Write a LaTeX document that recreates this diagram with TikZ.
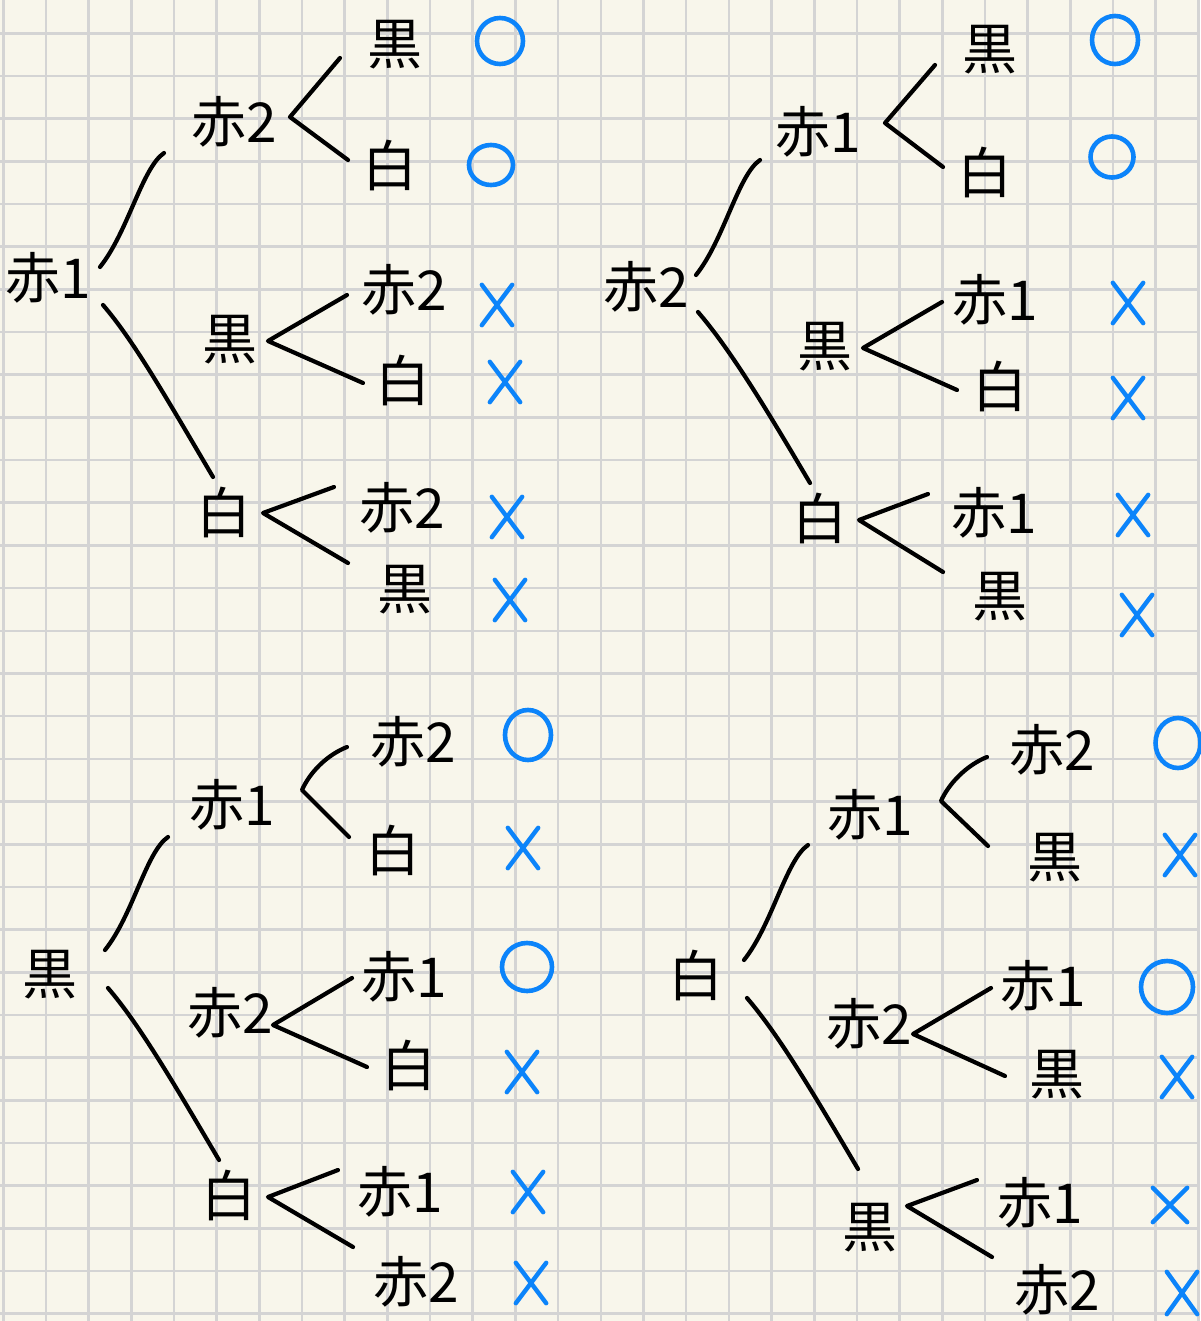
\documentclass[tikz,border=0pt]{standalone}
\usepackage{fontspec}
\newfontfamily\jpfont{Noto Sans CJK JP}
\usetikzlibrary{calc,shapes.geometric}
\definecolor{paper}{RGB}{248,246,235}
\definecolor{gridgray}{RGB}{212,212,212}
\definecolor{markblue}{RGB}{12,132,250}
\tikzset{
  lbl/.style={font=\jpfont\fontsize{55}{55}\selectfont, inner sep=0pt, text=black},
  pen/.style={draw=black, line width=4.2pt, line cap=round, line join=round},
  markpen/.style={draw=markblue, line width=4.4pt, line cap=round},
  okmark/.style={ellipse, draw=markblue, line width=4.6pt, minimum width=44pt, minimum height=44pt, inner sep=0pt},
  ngmark/.style={rectangle, minimum width=30pt, minimum height=40pt, inner sep=0pt,
    append after command={
      (\tikzlastnode.north west) edge[markpen] (\tikzlastnode.south east)
      (\tikzlastnode.north east) edge[markpen] (\tikzlastnode.south west)}},
}
\begin{document}
\begin{tikzpicture}[x=1pt,y=-1pt]
\useasboundingbox (0,0) rectangle (1200,1321);
% squared paper
\fill[paper] (0,0) rectangle (1200,1321);
\foreach \k in {0,...,28} \draw[gridgray, line width=2.6pt] ({3.3+42.68*\k},0) -- ++(0,1321);
\foreach \k in {0,...,30} \draw[gridgray, line width=2.6pt] (0,{33.3+42.68*\k}) -- ++(1200,0);

% ---------- tree: 赤1 first ----------
\node[lbl] (r1) at (48,278) {赤1};
\node[lbl] (a1) at (234,122) {赤2};
\node[lbl] (b1) at (230,340) {黒};
\node[lbl] (c1) at (224,512) {白};
\node[lbl] (aa1) at (395,45) {黒};
\node[lbl] (ab1) at (390,165) {白};
\node[lbl] (ba1) at (404,290) {赤2};
\node[lbl] (bb1) at (403,380) {白};
\node[lbl] (ca1) at (402,508) {赤2};
\node[lbl] (cb1) at (405,590) {黒};
\node[okmark, minimum width=46pt, minimum height=46pt] (maa1) at (500,41) {};
\node[okmark, minimum width=44pt, minimum height=40pt] (mab1) at (491,165) {};
\node[ngmark] (mba1) at (497,305) {};
\node[ngmark] (mbb1) at (505,382) {};
\node[ngmark] (mca1) at (507,517) {};
\node[ngmark] (mcb1) at (510,600) {};
\draw[pen] ($(r1)+(52,-11)$) .. controls +(28,-35) and +(-22,15) .. ($(a1)+(-70,31)$);
\draw[pen] ($(r1)+(55,27)$) .. controls +(30,35) and +(-50,-85) .. ($(c1)+(-11,-35)$);
\draw[pen] ($(aa1)+(-55,13)$) -- ($(a1)+(56,-5)$) -- ($(ab1)+(-42,-5)$);
\draw[pen] ($(ba1)+(-57,5)$) -- ($(b1)+(38,1)$) -- ($(bb1)+(-40,3)$);
\draw[pen] ($(ca1)+(-68,-21)$) -- ($(c1)+(39,1)$) -- ($(cb1)+(-57,-27)$);

% ---------- tree: 赤2 first ----------
\node[lbl] (r2) at (646,287) {赤2};
\node[lbl] (a2) at (818,132) {赤1};
\node[lbl] (b2) at (825,347) {黒};
\node[lbl] (c2) at (820,518) {白};
\node[lbl] (aa2) at (990,50) {黒};
\node[lbl] (ab2) at (985,172) {白};
\node[lbl] (ba2) at (995,300) {赤1};
\node[lbl] (bb2) at (1000,386) {白};
\node[lbl] (ca2) at (994,513) {赤1};
\node[lbl] (cb2) at (1000,597) {黒};
\node[okmark, minimum width=46pt, minimum height=48pt] (maa2) at (1115,40) {};
\node[okmark, minimum width=43pt, minimum height=41pt] (mab2) at (1112,157) {};
\node[ngmark] (mba2) at (1128,303) {};
\node[ngmark] (mbb2) at (1128,398) {};
\node[ngmark] (mca2) at (1133,515) {};
\node[ngmark] (mcb2) at (1137,615) {};
\draw[pen] ($(r2)+(50,-12)$) .. controls +(28,-35) and +(-22,15) .. ($(a2)+(-58,28)$);
\draw[pen] ($(r2)+(52,25)$) .. controls +(30,35) and +(-50,-85) .. ($(c2)+(-10,-35)$);
\draw[pen] ($(aa2)+(-55,15)$) -- ($(a2)+(67,-9)$) -- ($(ab2)+(-42,-5)$);
\draw[pen] ($(ba2)+(-53,2)$) -- ($(b2)+(38,1)$) -- ($(bb2)+(-43,4)$);
\draw[pen] ($(ca2)+(-66,-19)$) -- ($(c2)+(39,2)$) -- ($(cb2)+(-57,-25)$);

% ---------- tree: 黒 first ----------
\node[lbl] (r3) at (50,975) {黒};
\node[lbl] (a3) at (232,805) {赤1};
\node[lbl] (b3) at (230,1013) {赤2};
\node[lbl] (c3) at (229,1195) {白};
\node[lbl] (aa3) at (413,742) {赤2};
\node[lbl] (ab3) at (393,850) {白};
\node[lbl] (ba3) at (404,977) {赤1};
\node[lbl] (bb3) at (409,1065) {白};
\node[lbl] (ca3) at (400,1192) {赤1};
\node[lbl] (cb3) at (416,1282) {赤2};
\node[okmark, minimum width=46pt, minimum height=50pt] (maa3) at (528,735) {};
\node[ngmark] (mab3) at (523,848) {};
\node[okmark, minimum width=50pt, minimum height=48pt] (mba3) at (527,967) {};
\node[ngmark] (mbb3) at (522,1072) {};
\node[ngmark] (mca3) at (528,1192) {};
\node[ngmark] (mcb3) at (531,1283) {};
\draw[pen] ($(r3)+(55,-25)$) .. controls +(28,-35) and +(-22,15) .. ($(a3)+(-64,32)$);
\draw[pen] ($(r3)+(58,13)$) .. controls +(30,35) and +(-50,-85) .. ($(c3)+(-10,-35)$);
\draw[pen] ($(aa3)+(-66,5)$) .. controls +(-20,8) and +(8,-18) .. ($(a3)+(70,-15)$) -- ($(ab3)+(-44,-13)$);
\draw[pen] ($(ba3)+(-52,1)$) -- ($(b3)+(43,12)$) -- ($(bb3)+(-42,2)$);
\draw[pen] ($(ca3)+(-62,-22)$) -- ($(c3)+(39,2)$) -- ($(cb3)+(-63,-35)$);

% ---------- tree: 白 first ----------
\node[lbl] (r4) at (696,975) {白};
\node[lbl] (a4) at (870,815) {赤1};
\node[lbl] (b4) at (869,1024) {赤2};
\node[lbl] (c4) at (870,1228) {黒};
\node[lbl] (aa4) at (1052,750) {赤2};
\node[lbl] (ab4) at (1055,858) {黒};
\node[lbl] (ba4) at (1043,986) {赤1};
\node[lbl] (bb4) at (1057,1075) {黒};
\node[lbl] (ca4) at (1040,1203) {赤1};
\node[lbl] (cb4) at (1057,1290) {赤2};
\node[okmark, minimum width=45pt, minimum height=50pt] (maa4) at (1178,743) {};
\node[ngmark] (mab4) at (1180,855) {};
\node[okmark, minimum width=52pt, minimum height=52pt] (mba4) at (1167,987) {};
\node[ngmark] (mbb4) at (1177,1077) {};
\node[ngmark, minimum width=34pt, minimum height=34pt] (mca4) at (1170,1205) {};
\node[ngmark, minimum width=30pt, minimum height=42pt] (mcb4) at (1182,1293) {};
\draw[pen] ($(r4)+(48,-15)$) .. controls +(28,-35) and +(-22,15) .. ($(a4)+(-62,30)$);
\draw[pen] ($(r4)+(51,23)$) .. controls +(30,35) and +(-50,-85) .. ($(c4)+(-12,-59)$);
\draw[pen] ($(aa4)+(-65,7)$) .. controls +(-20,8) and +(8,-18) .. ($(a4)+(71,-14)$) -- ($(ab4)+(-67,-12)$);
\draw[pen] ($(ba4)+(-52,2)$) -- ($(b4)+(44,10)$) -- ($(bb4)+(-52,1)$);
\draw[pen] ($(ca4)+(-63,-23)$) -- ($(c4)+(37,-22)$) -- ($(cb4)+(-65,-33)$);
\end{tikzpicture}
\end{document}
